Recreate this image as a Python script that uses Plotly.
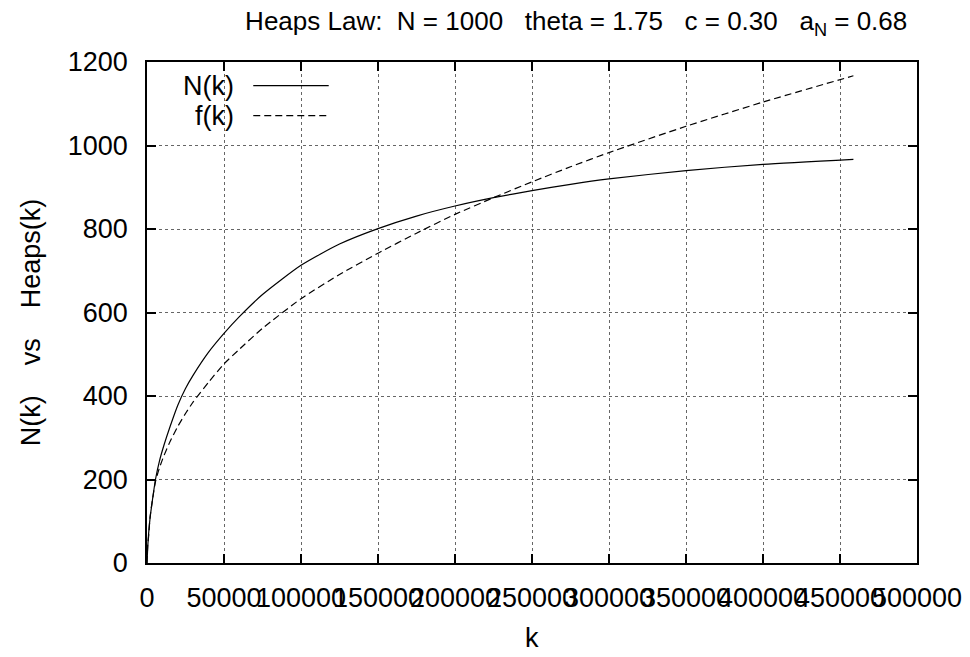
import plotly.graph_objects as go

# ---- data ----
k_vals = [0, 500, 1000, 2000, 3500, 5500, 8000, 11000, 15000, 20000, 25000, 30000,
          40000, 50000, 60000, 75000, 100000, 125000, 150000, 175000, 200000,
          225000, 250000, 275000, 300000, 350000, 400000, 458700]
n_vals = [0, 40, 68, 108, 150, 200, 243, 282, 327, 378, 418, 450,
          505, 550, 590, 643, 713, 764, 801, 831, 855,
          875, 892, 907, 920, 940, 955, 967]
f_vals = [0, 45, 62, 110, 150, 195, 227, 257, 291, 327, 358, 386,
          433, 477, 512, 562, 633, 691, 742, 790, 835,
          875, 913, 949, 983, 1046, 1104, 1167]
series_names = ["N(k)", "f(k)"]
x_ticks = [0, 50000, 100000, 150000, 200000, 250000, 300000, 350000, 400000, 450000, 500000]
y_ticks = [0, 200, 400, 600, 800, 1000, 1200]

FONT = "Liberation Sans, Arial, Helvetica, sans-serif"
FS = 27

fig = go.Figure()
fig.add_trace(go.Scatter(x=k_vals, y=n_vals, mode="lines", name=series_names[0],
                         line=dict(color="black", width=1.2, shape="spline", smoothing=0.6),
                         showlegend=False))
fig.add_trace(go.Scatter(x=k_vals, y=f_vals, mode="lines", name=series_names[1],
                         line=dict(color="black", width=1.2, dash="7px,4px", shape="spline", smoothing=0.6),
                         showlegend=False))

axis_common = dict(
    showline=True, linecolor="black", linewidth=1.5, mirror="allticks",
    ticks="inside", ticklen=9, tickwidth=1.5, tickcolor="black",
    showgrid=True, gridcolor="#666666", griddash="dot", gridwidth=1,
    zeroline=False, automargin=False,
    tickfont=dict(family=FONT, size=FS, color="black"),
)

fig.update_xaxes(range=[0, 500000], tickvals=x_ticks, ticktext=[str(v) for v in x_ticks],
                 tickangle=0, ticklabelstandoff=10, ticklabeloverflow="allow",
                 **axis_common)
fig.update_yaxes(range=[0, 1200], tickvals=y_ticks, ticktext=[str(v) for v in y_ticks],
                 ticklabelstandoff=12,
                 **axis_common)

# axis titles as text annotations
fig.add_annotation(x=0.5, y=-0.149, xref="paper", yref="paper", text="k", showarrow=False,
                   xanchor="center", yanchor="middle",
                   font=dict(family=FONT, size=FS, color="black"))
fig.add_annotation(x=-0.151, y=0.48, xref="paper", yref="paper",
                   text="N(k)    vs    Heaps(k)", textangle=-90, showarrow=False,
                   xanchor="center", yanchor="middle",
                   font=dict(family=FONT, size=FS, color="black"))

# gnuplot-style key: text on the left, line sample on the right
legend_rows = [(series_names[0], "solid", 0.953), (series_names[1], "7px,4px", 0.893)]
for name, dash, yp in legend_rows:
    fig.add_annotation(x=0.115, y=yp, xref="paper", yref="paper", text=name, showarrow=False,
                       xanchor="right", yanchor="middle",
                       font=dict(family=FONT, size=FS, color="black"))
    fig.add_shape(type="line", xref="paper", yref="paper", x0=0.138, x1=0.236, y0=yp, y1=yp,
                  line=dict(color="black", width=1.2, dash=dash))

fig.update_layout(
    width=970, height=657,
    margin=dict(l=147, r=53, t=62, b=94),
    paper_bgcolor="white", plot_bgcolor="white",
    title=dict(text="Heaps Law:  N = 1000   theta = 1.75   c = 0.30   a<sub>N</sub> = 0.68",
               x=0.594, xanchor="center", y=0.968, yanchor="middle",
               font=dict(family=FONT, size=FS - 1, color="black")),
)

fig.write_html("out.html")
